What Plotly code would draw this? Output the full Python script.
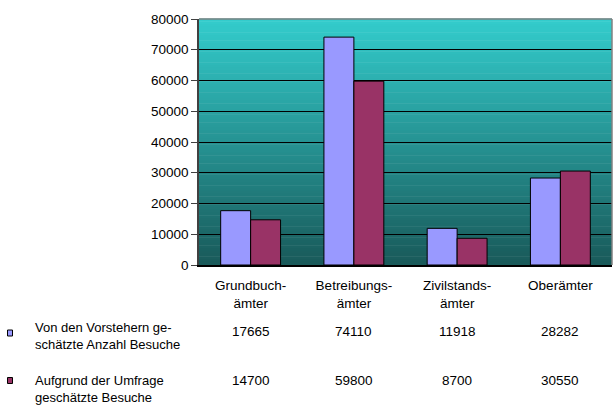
import plotly.graph_objects as go

# Offices
categories = ["Grundbuchämter", "Betreibungsämter", "Zivilstandsämter", "Oberämter"]
cat_labels = ["Grundbuch-<br>ämter", "Betreibungs-<br>ämter", "Zivilstands-<br>ämter", "Oberämter"]

# Visit counts
series_names = [
    "Von den Vorstehern ge-<br>schätzte Anzahl Besuche",
    "Aufgrund der Umfrage<br>geschätzte Besuche",
]
vorsteher = [17665, 74110, 11918, 28282]
umfrage = [14700, 59800, 8700, 30550]

y_ticks = [0, 10000, 20000, 30000, 40000, 50000, 60000, 70000, 80000]

W, H = 615, 406
ML, MR, MT, MB = 199, 3, 19, 141
plot_h = H - MT - MB

FONT = "Liberation Sans, Arial, sans-serif"
FS = 13.5
FS_ROW = 13
colors = ["#9999FF", "#993366"]


def py(pix):
    """pixel row -> paper y"""
    return (H - MB - pix) / plot_h


def px(pix):
    """pixel column -> paper x"""
    return (pix - ML) / (W - ML - MR)


fig = go.Figure()
for vals, col in zip([vorsteher, umfrage], colors):
    fig.add_bar(
        x=categories, y=vals,
        marker=dict(color=col, line=dict(color="black", width=1)),
        showlegend=False,
    )

# vertical gradient background of the plot area
shapes = []
n = 90
top = (51, 204, 204)
bot = (25, 90, 90)
for i in range(n):
    t = i / (n - 1)
    c = tuple(int(round(top[k] + (bot[k] - top[k]) * t)) for k in range(3))
    shapes.append(dict(
        type="rect", xref="paper", yref="paper",
        x0=0, x1=1, y0=1 - (i + 1) / n, y1=1 - i / n + 0.002,
        fillcolor=f"rgb{c}", line=dict(width=0), layer="below",
    ))
# plot-area frame (top and right)
shapes.append(dict(type="line", xref="paper", yref="paper", x0=0, x1=1, y0=1, y1=1,
                   line=dict(color="#808080", width=1.5)))
shapes.append(dict(type="line", xref="paper", yref="paper", x0=1, x1=1, y0=0, y1=1,
                   line=dict(color="#808080", width=1.5)))

# legend keys of the data table
for yy, col in zip([333, 380.5], colors):
    shapes.append(dict(
        type="rect", xref="paper", yref="paper",
        x0=px(7.5), x1=px(12.5), y0=py(yy + 3), y1=py(yy - 3),
        fillcolor=col, line=dict(color="black", width=1),
    ))

annotations = []
# table values
for vals, yy in zip([vorsteher, umfrage], [331, 380]):
    for c, v in zip(categories, vals):
        annotations.append(dict(x=c, xref="x", y=py(yy), yref="paper", yanchor="middle",
                                text=str(v), showarrow=False,
                                font=dict(family=FONT, size=FS, color="black")))
# table row titles
for txt, yy in zip(series_names, [336, 389]):
    annotations.append(dict(x=px(33), xref="paper", xanchor="left", y=py(yy), yref="paper",
                            yanchor="middle", text=txt, showarrow=False, align="left",
                            font=dict(family=FONT, size=FS_ROW, color="black")))

fig.update_layout(
    width=W, height=H,
    margin=dict(l=ML, r=MR, t=MT, b=MB),
    paper_bgcolor="white",
    plot_bgcolor="rgba(0,0,0,0)",
    barmode="group", bargap=0.42, bargroupgap=0,
    shapes=shapes, annotations=annotations,
    font=dict(family=FONT, size=FS, color="black"),
)
fig.update_xaxes(
    tickvals=categories, ticktext=cat_labels,
    ticks="outside", ticklen=7, tickcolor="rgba(0,0,0,0)",
    tickfont=dict(family=FONT, size=FS, color="black"),
    showgrid=False, zeroline=False,
    showline=True, linecolor="black", linewidth=1.5,
)
fig.update_yaxes(
    range=[0, 80000], tickvals=y_ticks, ticktext=[str(v) for v in y_ticks],
    showgrid=True, gridcolor="black", gridwidth=1,
    zeroline=False, showline=True, linecolor="#404040", linewidth=1.5,
    ticks="outside", ticklen=6, tickcolor="#404040", tickwidth=1,
    tickfont=dict(family=FONT, size=FS, color="black"),
)

fig.write_html("out.html")
